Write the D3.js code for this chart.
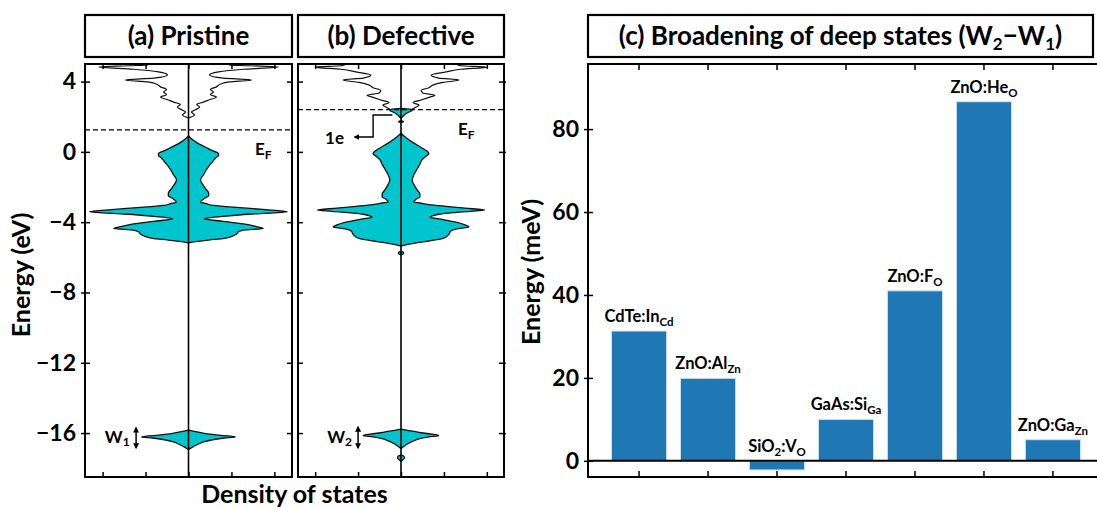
<!DOCTYPE html>
<html><head><meta charset="utf-8">
<script src="https://cdn.jsdelivr.net/npm/d3@7"></script>
<style>
body{margin:0;background:#fff;}
svg text{font-family:Lato,"Open Sans",sans-serif;font-weight:bold;fill:#000;}
</style></head><body>
<svg id="chart" width="1097" height="509"></svg>
<script>
// ---------------- data ----------------
const energyTicks = [4, 0, -4, -8, -12, -16];
const dosTicks = [-2, -1, 0, 1, 2];
const panelTitles = ["(a) Pristine", "(b) Defective"];

// Pristine: valence band (filled), conduction band (line), deep state W1
const pvE = [0.9,0.7,0.5,0.3,0.1,-0.1,-0.2,-0.35,-0.5,-0.7,-1.0,-1.3,-1.6,-1.85,-2.1,-2.35,-2.5,-2.65,-2.85,-2.95,-3.05,-3.19,-3.3,-3.4,-3.47,-3.55,-3.65,-3.75,-3.82,-3.95,-4.1,-4.25,-4.36,-4.45,-4.55,-4.67,-4.8,-4.92,-5.02,-5.12,-5.18];
const pvD = [0,0.09,0.21,0.37,0.53,0.70,0.70,0.63,0.58,0.51,0.42,0.35,0.28,0.33,0.40,0.47,0.47,0.37,0.28,0.42,0.58,1.28,1.86,2.30,1.98,1.40,0.88,0.47,0.37,0.81,1.28,1.58,1.74,1.28,1.16,1.12,1.02,0.84,0.47,0.12,0];
const pcE = [1.93,2.1,2.27,2.4,2.55,2.7,2.82,2.95,3.12,3.25,3.41,3.55,3.7,3.85,3.98,4.09,4.2,4.38,4.55,4.7,4.83,4.9,4.95,5.05];
const pcD = [0,0.14,0.07,0.16,0.26,0.19,0.33,0.47,0.65,0.51,0.58,0.51,0.65,0.74,0.95,1.47,0.81,0.49,0.70,1.28,2.09,1.40,0.95,0.88];
const pwE = [-15.83,-15.95,-16.05,-16.12,-16.18,-16.22,-16.28,-16.38,-16.5,-16.65,-16.8,-16.95];
const pwD = [0,0.23,0.44,0.70,0.98,1.09,0.84,0.56,0.35,0.21,0.09,0];

// Defective: valence band, defect level, conduction band, deep state W2, small peaks
const dvE = [1.06,0.8,0.5,0.25,0.05,-0.1,-0.25,-0.45,-0.7,-1.0,-1.3,-1.6,-1.85,-2.15,-2.4,-2.55,-2.7,-2.85,-2.91,-3.0,-3.1,-3.2,-3.31,-3.38,-3.46,-3.55,-3.65,-3.72,-3.85,-4.0,-4.15,-4.27,-4.38,-4.5,-4.67,-4.8,-4.92,-5.05,-5.15,-5.25,-5.36];
const dvD = [0,0.12,0.30,0.47,0.60,0.65,0.58,0.49,0.44,0.37,0.30,0.26,0.30,0.37,0.44,0.44,0.35,0.30,0.44,0.65,1.05,1.49,1.95,1.63,1.21,0.88,0.72,0.67,0.98,1.28,1.49,1.58,1.30,1.16,1.12,1.07,0.98,0.70,0.42,0.19,0];
const dvDotE = [-5.66,-5.72,-5.8,-5.86];
const dvDotD = [0,0.06,0.06,0];
const ddE = [2.48,2.42,2.36,2.28,2.18,2.08,1.98,1.9];
const ddD = [0,0.26,0.26,0.19,0.12,0.07,0.03,0];
const ddDotE = [1.78,1.72,1.66];
const ddDotD = [0,0.06,0];
const dcE = [2.42,2.55,2.67,2.8,2.95,3.1,3.22,3.35,3.5,3.65,3.8,3.95,4.09,4.2,4.37,4.55,4.7,4.82,4.9,4.97,5.05];
const dcD = [0.26,0.35,0.42,0.28,0.47,0.65,0.79,0.51,0.47,0.65,0.74,0.98,1.35,0.88,0.70,1.05,1.40,2.0,1.40,1.30,1.21];
const dwE = [-15.77,-15.87,-15.96,-16.04,-16.1,-16.15,-16.22,-16.32,-16.46,-16.6,-16.75,-16.88];
const dwD = [0,0.21,0.42,0.65,0.84,0.88,0.65,0.44,0.28,0.16,0.07,0];
const dwDotE = [-17.25,-17.32,-17.42,-17.5,-17.6];
const dwDotD = [0,0.07,0.08,0.05,0];

const fermiLevels = [1.25, 2.4];

// Panel (c)
const barLabels = [
  [["CdTe:In",0],["Cd",1]],
  [["ZnO:Al",0],["Zn",1]],
  [["SiO",0],["2",1],[":V",0],["O",1]],
  [["GaAs:Si",0],["Ga",1]],
  [["ZnO:F",0],["O",1]],
  [["ZnO:He",0],["O",1]],
  [["ZnO:Ga",0],["Zn",1]]
];
const barValues = [31.3, 19.9, -2.2, 10.0, 41.0, 86.6, 5.1];
const meVTicks = [0, 20, 40, 60, 80];
const titleC = [["(c) Broadening of deep states (W",0],["2",1],["\u2212W",0],["1",1],[")",0]];

// ---------------- helpers ----------------
const zip = (E, D) => E.map((e, i) => ({e, v: D[i]}));
const svg = d3.select("#chart");
const defs = svg.append("defs");
const cyan = "#00c5cc";

function arrowMarker(id) {
  defs.append("marker").attr("id", id).attr("viewBox", "0 0 10 10")
    .attr("refX", 8).attr("refY", 5).attr("markerWidth", 4).attr("markerHeight", 4)
    .attr("orient", "auto-start-reverse")
    .append("path").attr("d", "M0,0L10,5L0,10z").attr("fill", "#000");
}
arrowMarker("arr");

function richText(sel, parts, size, subSize, subShift) {
  let shifted = false;
  parts.forEach(([t, sub]) => {
    const ts = sel.append("tspan").text(t);
    if (sub) { ts.attr("font-size", subSize).attr("dy", shifted ? 0 : subShift); shifted = true; }
    else { ts.attr("font-size", size).attr("dy", shifted ? -subShift : 0); shifted = false; }
  });
}

const yE = d3.scaleLinear().domain([-18.5, 5]).range([477, 64]);
const xA = d3.scaleLinear().domain([-2.41, 2.41]).range([85, 292]);
const xB = d3.scaleLinear().domain([-2.4, 2.4]).range([298, 504]);

function titleBox(x0, x1, parts) {
  svg.append("rect").attr("x", x0).attr("y", 15).attr("width", x1 - x0).attr("height", 42)
    .attr("fill", "none").attr("stroke", "#000").attr("stroke-width", 2.2);
  const t = svg.append("text").attr("x", (x0 + x1) / 2).attr("y", 45).attr("text-anchor", "middle");
  richText(t, parts, 26, 17, 5);
}

function dosPanel(x, id, filled, lines, showLabels) {
  const g = svg.append("g");
  const [x0, x1] = x.range();
  const [yb, yt] = yE.range();
  defs.append("clipPath").attr("id", id).append("rect")
    .attr("x", x0).attr("y", yt).attr("width", x1 - x0).attr("height", yb - yt);
  const inner = g.append("g").attr("clip-path", `url(#${id})`);
  const area = d3.area().curve(d3.curveMonotoneY)
    .y(d => yE(d.e)).x0(d => x(-d.v)).x1(d => x(d.v));
  filled.forEach(data => inner.append("path").datum(data).attr("d", area)
    .attr("fill", cyan).attr("stroke", "#111").attr("stroke-width", 1.3).attr("stroke-linejoin", "round"));
  [-1, 1].forEach(s => {
    const ln = d3.line().curve(d3.curveMonotoneY).y(d => yE(d.e)).x(d => x(s * d.v));
    lines.forEach(data => inner.append("path").datum(data).attr("d", ln)
      .attr("fill", "none").attr("stroke", "#111").attr("stroke-width", 1.2));
  });
  inner.append("line").attr("x1", x(0)).attr("x2", x(0)).attr("y1", yt).attr("y2", yb)
    .attr("stroke", "#000").attr("stroke-width", 1.6);
  const left = g.append("g").attr("transform", `translate(${x0},0)`)
    .call(d3.axisLeft(yE).tickValues(energyTicks).tickSize(-5).tickSizeOuter(0).tickPadding(9)
      .tickFormat(showLabels ? d3.format("d") : () => ""));
  left.select(".domain").remove();
  left.selectAll(".tick line").attr("x1", showLabels ? -4 : 0).attr("stroke-width", 1.5);
  left.selectAll(".tick text").attr("font-size", 23).attr("font-family", "Lato").attr("font-weight", "bold").attr("fill", "#000");
  const right = g.append("g").attr("transform", `translate(${x1},0)`)
    .call(d3.axisRight(yE).tickValues(energyTicks).tickSize(-5).tickSizeOuter(0).tickFormat(() => ""));
  right.select(".domain").remove();
  right.selectAll(".tick line").attr("x1", showLabels ? 0 : 2).attr("stroke-width", 1.5);
  const bottom = g.append("g").attr("transform", `translate(0,${yb})`)
    .call(d3.axisBottom(x).tickValues(dosTicks).tickSize(-5).tickSizeOuter(0).tickFormat(() => ""));
  bottom.select(".domain").remove();
  bottom.selectAll(".tick line").attr("stroke-width", 1.5);
  const top = g.append("g").attr("transform", `translate(0,${yt})`)
    .call(d3.axisTop(x).tickValues(dosTicks).tickSize(-5).tickSizeOuter(0).tickFormat(() => ""));
  top.select(".domain").remove();
  top.selectAll(".tick line").attr("stroke-width", 1.5);
  g.append("rect").attr("x", x0).attr("y", yt).attr("width", x1 - x0).attr("height", yb - yt)
    .attr("fill", "none").attr("stroke", "#000").attr("stroke-width", 2);
  return {g, inner};
}

// ---------------- panel (a) ----------------
titleBox(xA.range()[0], xA.range()[1], [[panelTitles[0], 0]]);
const pa = dosPanel(xA, "clipA", [zip(pvE, pvD), zip(pwE, pwD)], [zip(pcE, pcD)], true);
pa.inner.append("line").attr("x1", xA.range()[0]).attr("x2", xA.range()[1])
  .attr("y1", yE(fermiLevels[0])).attr("y2", yE(fermiLevels[0]))
  .attr("stroke", "#000").attr("stroke-width", 1.3).attr("stroke-dasharray", "5,3");
richText(svg.append("text").attr("x", xA(1.55)).attr("y", yE(-0.17)), [["E",0],["F",1]], 17, 12, 4);
richText(svg.append("text").attr("x", xA(-1.95)).attr("y", yE(-16.58)), [["W",0],["1",1]], 17, 12, 3);
svg.append("line").attr("x1", xA(-1.22)).attr("x2", xA(-1.22)).attr("y1", yE(-15.7)).attr("y2", yE(-16.85))
  .attr("stroke", "#000").attr("stroke-width", 1.5)
  .attr("marker-start", "url(#arr)").attr("marker-end", "url(#arr)");

// ---------------- panel (b) ----------------
titleBox(xB.range()[0], xB.range()[1], [[panelTitles[1], 0]]);
const pb = dosPanel(xB, "clipB",
  [zip(dvE, dvD), zip(dvDotE, dvDotD), zip(ddE, ddD), zip(ddDotE, ddDotD), zip(dwE, dwD), zip(dwDotE, dwDotD)],
  [zip(dcE, dcD)], false);
pb.inner.append("line").attr("x1", xB.range()[0]).attr("x2", xB.range()[1])
  .attr("y1", yE(fermiLevels[1])).attr("y2", yE(fermiLevels[1]))
  .attr("stroke", "#000").attr("stroke-width", 1.3).attr("stroke-dasharray", "5,3");
richText(svg.append("text").attr("x", xB(1.33)).attr("y", yE(0.96)), [["E",0],["F",1]], 17, 12, 4);
richText(svg.append("text").attr("x", xB(-1.77)).attr("y", yE(0.44)), [["1e",0]], 17, 12, 4);
svg.append("path")
  .attr("d", d3.line()([[xB(-0.2), yE(2.1)], [xB(-0.65), yE(2.1)], [xB(-0.65), yE(0.85)], [xB(-1.08), yE(0.85)]]))
  .attr("fill", "none").attr("stroke", "#000").attr("stroke-width", 1.4).attr("marker-end", "url(#arr)");
richText(svg.append("text").attr("x", xB(-1.72)).attr("y", yE(-16.58)), [["W",0],["2",1]], 17, 12, 3);
svg.append("line").attr("x1", xB(-1.0)).attr("x2", xB(-1.0)).attr("y1", yE(-15.65)).attr("y2", yE(-16.85))
  .attr("stroke", "#000").attr("stroke-width", 1.5)
  .attr("marker-start", "url(#arr)").attr("marker-end", "url(#arr)");

// shared labels
svg.append("text").attr("transform", "translate(30,275) rotate(-90)")
  .attr("text-anchor", "middle").attr("font-size", 25).text("Energy (eV)");
svg.append("text").attr("x", (xA.range()[0] + xB.range()[1]) / 2).attr("y", 503)
  .attr("text-anchor", "middle").attr("font-size", 25).text("Density of states");

// ---------------- panel (c) ----------------
const yC = d3.scaleLinear().domain([-3.9, 95.7]).range([477, 64]);
const xC = d3.scaleBand().domain(d3.range(barValues.length)).range([588, 1104]).paddingInner(0.2).paddingOuter(0.34);
titleBox(588, 1093, titleC);
const gc = svg.append("g");
gc.selectAll("rect.bar").data(barValues).join("rect").attr("class", "bar")
  .attr("x", (d, i) => xC(i)).attr("width", xC.bandwidth())
  .attr("y", d => yC(Math.max(d, 0))).attr("height", d => Math.abs(yC(d) - yC(0)))
  .attr("fill", "#1f77b4").attr("stroke", "#cfe2f1").attr("stroke-width", 1);
barValues.forEach((v, i) => {
  const t = gc.append("text").attr("x", xC(i) + xC.bandwidth() / 2).attr("y", yC(Math.max(v, 0)) - 9)
    .attr("text-anchor", "middle");
  richText(t, barLabels[i], 16.5, 11.5, 4);
});
gc.append("line").attr("x1", 588).attr("x2", 1104).attr("y1", yC(0)).attr("y2", yC(0))
  .attr("stroke", "#000").attr("stroke-width", 2);
const cl = gc.append("g").attr("transform", "translate(588,0)")
  .call(d3.axisLeft(yC).tickValues(meVTicks).tickSize(-5).tickSizeOuter(0).tickPadding(9).tickFormat(d3.format("d")));
cl.select(".domain").remove();
cl.selectAll(".tick line").attr("x1", -4).attr("stroke-width", 1.5);
cl.selectAll(".tick text").attr("font-size", 23).attr("font-family", "Lato").attr("font-weight", "bold").attr("fill", "#000");
const cb = gc.append("g").attr("transform", "translate(0,477)")
  .call(d3.axisBottom(xC).tickSize(-6).tickSizeOuter(0).tickFormat(() => ""));
cb.select(".domain").remove();
cb.selectAll(".tick line").attr("stroke-width", 1.5);
const ct = gc.append("g").attr("transform", "translate(0,64)")
  .call(d3.axisTop(xC).tickSize(-6).tickSizeOuter(0).tickFormat(() => ""));
ct.select(".domain").remove();
ct.selectAll(".tick line").attr("stroke-width", 1.5);
gc.append("rect").attr("x", 588).attr("y", 64).attr("width", 1104 - 588).attr("height", 477 - 64)
  .attr("fill", "none").attr("stroke", "#000").attr("stroke-width", 2);
svg.append("text").attr("transform", "translate(540,272) rotate(-90)")
  .attr("text-anchor", "middle").attr("font-size", 25).text("Energy (meV)");
</script></body></html>
